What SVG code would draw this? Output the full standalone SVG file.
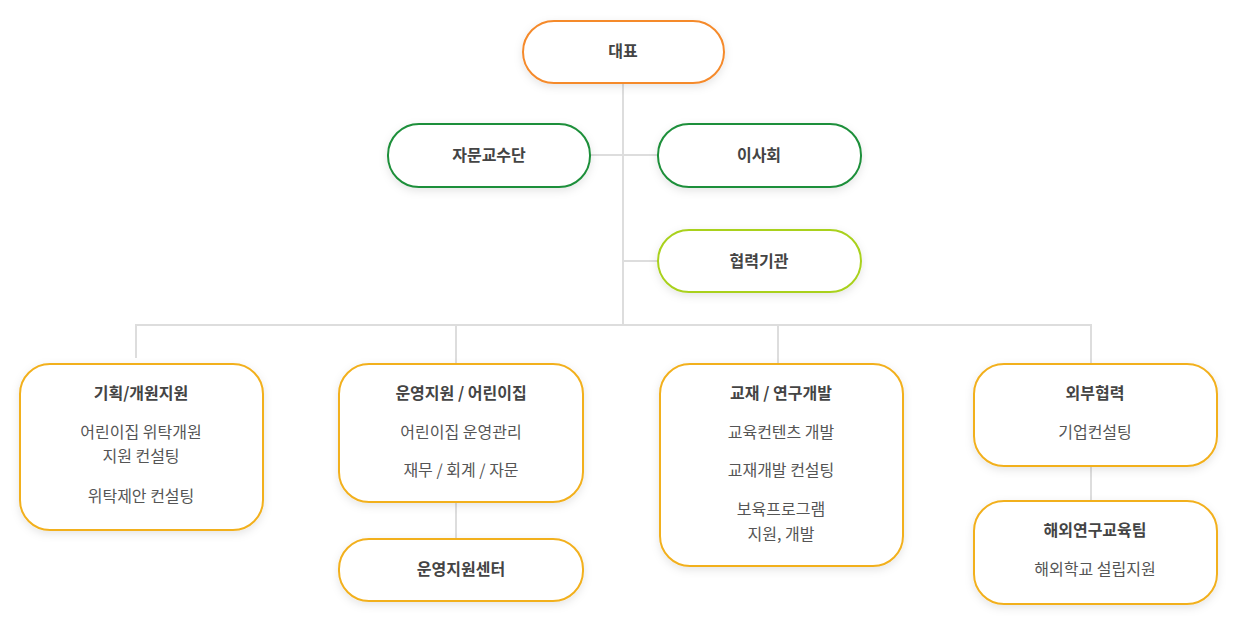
<svg xmlns="http://www.w3.org/2000/svg" width="1247" height="633" viewBox="0 0 1247 633">
<defs>
<filter id="sh" x="-10%" y="-20%" width="120%" height="150%"><feDropShadow dx="0" dy="3" stdDeviation="4" flood-color="#000" flood-opacity="0.1"/></filter>
<style>
.b{fill:#fff;stroke-width:2;filter:url(#sh)}
.o{stroke:#F58A2C}.g{stroke:#1F8F3A}.l{stroke:#A9D11F}.y{stroke:#F2B01E}
text{font-family:"Noto Sans CJK KR","Noto Sans",sans-serif;fill:#555;text-anchor:middle;font-size:16px}
.t{font-weight:bold;fill:#444}
.c line{stroke:#DDD;stroke-width:2}
</style>
</defs>
<rect width="1247" height="633" fill="#fff"/>
<g class="c">
<line x1="623" y1="83" x2="623" y2="326"/>
<line x1="590" y1="155" x2="658" y2="155"/>
<line x1="623" y1="261" x2="658" y2="261"/>
<line x1="135" y1="325" x2="1091" y2="325"/>
<line x1="136" y1="324" x2="136" y2="358"/>
<line x1="456" y1="324" x2="456" y2="364"/>
<line x1="778" y1="324" x2="778" y2="364"/>
<line x1="1091" y1="324" x2="1091" y2="364"/>
<line x1="456" y1="502" x2="456" y2="539"/>
<line x1="1091" y1="466" x2="1091" y2="501"/>
</g>
<g id="n1"><rect class="b o" x="523" y="21" width="201" height="62" rx="31"/><text class="t" x="623" y="57">대표</text></g>
<g id="n2"><rect class="b g" x="388" y="124" width="202" height="63" rx="31"/><text class="t" x="489" y="161">자문교수단</text></g>
<g id="n3"><rect class="b g" x="658" y="124" width="203" height="63" rx="31"/><text class="t" x="759" y="161">이사회</text></g>
<g id="n4"><rect class="b l" x="658" y="230" width="203" height="62" rx="31"/><text class="t" x="759" y="267">협력기관</text></g>
<g id="n5"><rect class="b y" x="20" y="364" width="243" height="166" rx="30"/>
<text class="t" x="141" y="399">기획/개원지원</text><text x="141" y="438">어린이집 위탁개원</text><text x="141" y="462">지원 컨설팅</text><text x="141" y="502">위탁제안 컨설팅</text></g>
<g id="n6"><rect class="b y" x="339" y="364" width="244" height="138" rx="30"/>
<text class="t" x="461" y="399">운영지원 / 어린이집</text><text x="461" y="438">어린이집 운영관리</text><text x="461" y="476">재무 / 회계 / 자문</text></g>
<g id="n7"><rect class="b y" x="660" y="364" width="243" height="202" rx="30"/>
<text class="t" x="781" y="399">교재 / 연구개발</text><text x="781" y="438">교육컨텐츠 개발</text><text x="781" y="476">교재개발 컨설팅</text><text x="781" y="515">보육프로그램</text><text x="781" y="540">지원, 개발</text></g>
<g id="n8"><rect class="b y" x="974" y="364" width="243" height="102" rx="30"/>
<text class="t" x="1095" y="399">외부협력</text><text x="1095" y="438">기업컨설팅</text></g>
<g id="n9"><rect class="b y" x="339" y="539" width="244" height="62" rx="30"/><text class="t" x="461" y="575">운영지원센터</text></g>
<g id="n10"><rect class="b y" x="974" y="501" width="243" height="103" rx="30"/>
<text class="t" x="1095" y="536">해외연구교육팀</text><text x="1095" y="575">해외학교 설립지원</text></g>
</svg>
